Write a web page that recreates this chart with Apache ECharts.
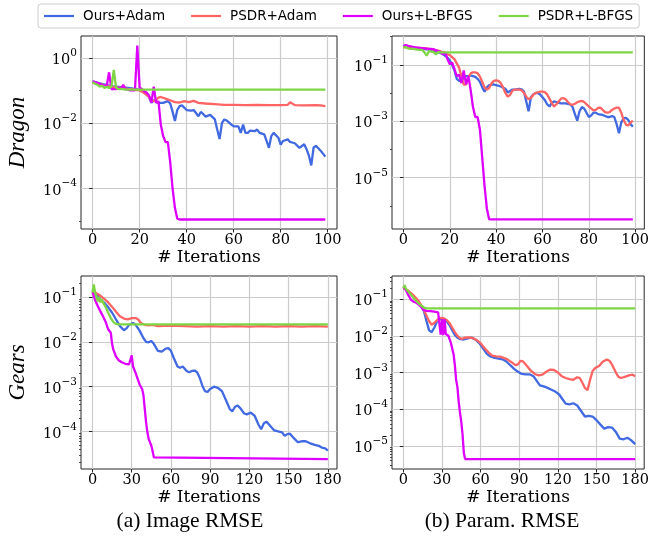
<!DOCTYPE html>
<html><head><meta charset="utf-8">
<script src="https://cdn.jsdelivr.net/npm/echarts@6/dist/echarts.min.js"></script>
<style>html,body{margin:0;padding:0;background:#fff}#c{width:652px;height:544px}</style>
</head><body><div id="c"></div>
<script>
// ---------- labels ----------
const seriesNames = ['Ours+Adam', 'PSDR+Adam', 'Ours+L-BFGS', 'PSDR+L-BFGS'];
const rowLabels = ['Dragon', 'Gears'];
const captions = ['(a) Image RMSE', '(b) Param. RMSE'];
const xTicksTop = [0, 20, 40, 60, 80, 100];
const xTicksBottom = [0, 30, 60, 90, 120, 150, 180];
const yTicksDragonImg = [1, 1e-2, 1e-4];
const yTicksDragonParam = [1e-1, 1e-3, 1e-5];
const yTicksGearsImg = [1e-1, 1e-2, 1e-3, 1e-4];
const yTicksGearsParam = [1e-1, 1e-2, 1e-3, 1e-4, 1e-5];
const yMinorDragonImg = [1e-1, 1e-3, 1e-5];
const yMinorDragonParam = [1, 1e-2, 1e-4, 1e-6];
const minorMantissas = [2, 3, 4, 5, 6, 7, 8, 9];
const gearsDecades = [1e-6, 1e-5, 1e-4, 1e-3, 1e-2, 1e-1];

// ---------- Dragon / Image RMSE ----------
const dImgAdamIt = [0,3,6,9,12,15,18,20,22,24,25,26,27,28,30,32,33,34,35,36,37,38,40,42,43,45,46,47,48,50,52,53,54,55,56,57,59,60,62,63,64,65,66,67,69,70,71,73,74,75,76,77,79,80,81,83,84,86,88,90,91,92,93,94,95,97,99];
const dImgAdam = [0.191,0.166,0.145,0.132,0.126,0.120,0.112,0.105,0.0851,0.0631,0.0417,0.0501,0.0447,0.0417,0.0417,0.0468,0.0398,0.0224,0.0115,0.0251,0.0331,0.0347,0.0251,0.0240,0.0251,0.0162,0.0219,0.0191,0.0158,0.0178,0.0129,0.00631,0.00324,0.0100,0.0129,0.0120,0.00891,0.00794,0.00794,0.00501,0.00891,0.00501,0.00501,0.00589,0.00562,0.00631,0.00501,0.00447,0.00282,0.00174,0.00398,0.00501,0.00355,0.00219,0.00282,0.00316,0.00263,0.00240,0.00174,0.00224,0.00158,0.00100,0.000501,0.00178,0.00200,0.00141,0.000933];
const dImgPsdrIt = [0,3,6,9,12,15,18,20,22,24,25,26,27,28,29,31,33,35,37,39,41,43,45,48,52,56,60,65,70,75,80,83,84,86,90,95,97,99];
const dImgPsdr = [0.174,0.158,0.138,0.126,0.120,0.112,0.105,0.100,0.0832,0.0631,0.0501,0.0468,0.0525,0.0603,0.0631,0.0562,0.0501,0.0437,0.0427,0.0468,0.0437,0.0479,0.0417,0.0398,0.0380,0.0363,0.0363,0.0355,0.0363,0.0355,0.0355,0.0363,0.0437,0.0355,0.0347,0.0355,0.0347,0.0331];
const dImgOursLbIt = [0,1,2,3,4,5,6,7,8,9,10,11,12,13,14,15,16,17,18,19,20,21,22,23,24,25,26,27,28,29,30,31,32,33,34,35,36,37,99];
const dImgOursLb = [0.19,0.18,0.17,0.16,0.15,0.14,0.14,0.36,0.11,0.11,0.11,0.12,0.11,0.15,0.11,0.105,0.10,0.10,0.10,2.4,0.12,0.11,0.095,0.085,0.07,0.042,0.13,0.042,0.047,0.0089,0.0040,0.0026,0.0026,0.00063,0.0001,0.000025,0.0000117,0.000011,0.000011];
const dImgPsdrLbIt = [0,1,2,3,4,5,6,7,8,9,10,11,12,14,99];
const dImgPsdrLb = [0.178,0.16,0.15,0.13,0.14,0.12,0.13,0.12,0.13,0.43,0.12,0.11,0.112,0.107,0.106];

// ---------- Dragon / Param RMSE ----------
const dParAdamIt = [0,5,10,15,17,19,20,21,22,23,24,25,26,27,28,29,30,31,32,33,34,35,36,37,38,39,40,42,44,45,46,47,48,50,51,52,53,54,55,56,57,58,59,60,61,62,63,64,65,66,67,68,70,72,73,74,75,76,77,78,79,80,81,82,83,84,86,88,89,90,91,92,93,94,95,96,97,98,99];
const dParAdam = [0.447,0.398,0.355,0.282,0.240,0.178,0.141,0.100,0.0631,0.0316,0.0269,0.0263,0.0355,0.0398,0.0398,0.0417,0.0398,0.0372,0.0316,0.0251,0.0158,0.0112,0.0158,0.0191,0.0200,0.0200,0.0191,0.0170,0.0141,0.0105,0.0117,0.0132,0.0132,0.0141,0.0135,0.0112,0.00501,0.00224,0.00708,0.00891,0.0100,0.0100,0.00891,0.00708,0.00562,0.00398,0.00331,0.00447,0.00501,0.00479,0.00447,0.00427,0.00427,0.00398,0.00316,0.00178,0.00105,0.00224,0.00316,0.00282,0.00200,0.00141,0.00158,0.00200,0.00200,0.00178,0.00166,0.00141,0.00141,0.00151,0.00141,0.000794,0.000372,0.000891,0.00126,0.00132,0.00112,0.000794,0.000631];
const dParPsdrIt = [0,5,10,15,18,20,22,24,25,26,27,28,29,30,31,32,33,34,35,36,37,38,39,40,41,42,43,44,45,46,47,48,50,51,52,53,54,55,56,57,59,60,61,62,63,64,65,66,67,68,69,70,71,72,73,74,75,76,77,78,79,80,81,82,83,84,85,86,87,88,89,90,91,92,93,94,95,96,97,98,99];
const dParPsdr = [0.427,0.407,0.380,0.316,0.263,0.219,0.158,0.0794,0.0398,0.0200,0.0200,0.0355,0.0501,0.0537,0.0537,0.0501,0.0380,0.0251,0.0158,0.0132,0.0151,0.0219,0.0269,0.0282,0.0269,0.0224,0.0158,0.0100,0.00741,0.00851,0.0120,0.0132,0.0132,0.0126,0.0100,0.00741,0.00603,0.00661,0.00851,0.0100,0.0112,0.0112,0.0107,0.00891,0.00631,0.00447,0.00331,0.00398,0.00501,0.00631,0.00661,0.00603,0.00479,0.00398,0.00380,0.00417,0.00468,0.00501,0.00525,0.00479,0.00398,0.00331,0.00282,0.00240,0.00251,0.00295,0.00302,0.00251,0.00209,0.00200,0.00209,0.00251,0.00282,0.00302,0.00302,0.00200,0.00112,0.000759,0.000708,0.000891,0.00105];
const dParOursLbIt = [0,1,2,5,10,13,16,17,18,19,20,21,22,23,24,25,26,27,28,29,30,31,32,33,34,35,36,37,99];
const dParOursLb = [0.468,0.501,0.468,0.417,0.372,0.355,0.282,0.234,0.282,0.158,0.105,0.120,0.0708,0.0398,0.0447,0.0224,0.0631,0.0200,0.0398,0.0126,0.00316,0.00141,0.00141,0.000501,0.0000501,0.00000501,0.000000794,0.000000331,0.000000331];
const dParPsdrLbIt = [0,1,2,3,4,5,6,7,8,9,10,11,12,13,14,15,16,99];
const dParPsdrLb = [0.417,0.427,0.380,0.363,0.372,0.355,0.347,0.339,0.339,0.282,0.209,0.302,0.295,0.282,0.234,0.282,0.275,0.275];

// ---------- Gears / Image RMSE ----------
const gImgAdamIt = [0,3,6,9,12,15,18,21,24,26,28,31,33,36,39,41,43,45,47,50,53,56,58,60,62,65,67,69,72,74,76,78,80,82,84,86,88,90,93,96,99,102,105,107,109,111,113,116,118,121,124,127,129,131,133,136,139,142,145,147,149,151,154,157,160,163,166,170,173,176,178,180];
const gImgAdam = [0.129,0.112,0.0891,0.0741,0.0589,0.0447,0.0316,0.0224,0.0182,0.0200,0.0240,0.0263,0.0240,0.0178,0.0120,0.0100,0.00977,0.0105,0.00891,0.00631,0.00603,0.00708,0.00724,0.00631,0.00447,0.00282,0.00263,0.00282,0.00224,0.00209,0.00224,0.00229,0.00209,0.00158,0.00105,0.000794,0.000759,0.000891,0.00100,0.000933,0.000794,0.000501,0.000316,0.000282,0.000355,0.000380,0.000331,0.000251,0.000240,0.000263,0.000224,0.000141,0.000112,0.000151,0.000166,0.000132,0.000105,0.000100,0.0000955,0.0000794,0.0000871,0.0000891,0.0000708,0.0000575,0.0000603,0.0000603,0.0000550,0.0000501,0.0000479,0.0000427,0.0000417,0.0000372];
const gImgPsdrIt = [0,2,4,6,9,12,15,18,21,24,27,30,33,35,37,40,43,46,50,60,70,80,90,100,110,120,130,140,150,160,170,180];
const gImgPsdr = [0.129,0.126,0.117,0.107,0.0912,0.0759,0.0603,0.0468,0.0372,0.0331,0.0316,0.0339,0.0339,0.0316,0.0263,0.0240,0.0234,0.0240,0.0224,0.0229,0.0224,0.0219,0.0224,0.0219,0.0224,0.0219,0.0224,0.0219,0.0224,0.0219,0.0224,0.0219];
const gImgOursLbIt = [0,2,4,6,8,10,12,14,15,16,18,20,22,25,28,29,30,31,33,36,38,39,40,41,42,43,45,46,47,48,180];
const gImgOursLb = [0.129,0.0851,0.0631,0.0479,0.0372,0.0282,0.0191,0.0158,0.00891,0.00661,0.00468,0.00389,0.00355,0.00324,0.00316,0.00302,0.00501,0.00282,0.00200,0.00112,0.000871,0.000631,0.000316,0.000158,0.0000955,0.0000676,0.0000479,0.0000355,0.0000263,0.0000240,0.0000240];
const gImgPsdrLbIt = [0,1,2,3,4,5,6,7,8,10,12,14,16,18,20,180];
const gImgPsdrLb = [0.126,0.191,0.126,0.100,0.0794,0.100,0.0759,0.0891,0.0759,0.0603,0.0447,0.0339,0.0275,0.0251,0.0245,0.0245];

// ---------- Gears / Param RMSE ----------
const gParAdamIt = [0,3,6,9,12,14,16,18,20,22,24,26,28,30,32,34,36,38,40,42,44,47,50,53,56,59,62,65,68,71,74,77,80,83,86,89,92,95,98,101,104,106,109,112,115,118,121,124,126,129,132,135,138,141,144,147,150,153,156,159,162,165,168,171,174,177,180];
const gParAdam = [0.200,0.174,0.138,0.107,0.0794,0.0631,0.0468,0.0251,0.0141,0.0126,0.0166,0.0240,0.0275,0.0295,0.0282,0.0240,0.0191,0.0141,0.0105,0.00891,0.00813,0.00794,0.00851,0.00891,0.00794,0.00631,0.00447,0.00316,0.00269,0.00251,0.00240,0.00229,0.00200,0.00158,0.00126,0.00105,0.000912,0.000891,0.000891,0.000794,0.000562,0.000447,0.000417,0.000380,0.000339,0.000302,0.000251,0.000178,0.000141,0.000135,0.000145,0.000126,0.0000891,0.0000631,0.0000661,0.0000631,0.0000501,0.0000380,0.0000295,0.0000324,0.0000316,0.0000240,0.0000158,0.0000151,0.0000166,0.0000141,0.0000112];
const gParPsdrIt = [0,2,4,6,8,10,12,14,16,18,20,22,24,26,28,30,32,34,36,38,40,42,44,46,48,51,54,57,60,63,66,69,72,75,78,81,84,87,89,91,93,96,99,102,105,108,111,114,117,120,123,126,129,132,135,137,139,141,143,145,147,149,152,155,158,160,162,165,167,169,172,175,178,180];
const gParPsdr = [0.200,0.186,0.166,0.145,0.126,0.105,0.0871,0.0676,0.0501,0.0355,0.0251,0.0200,0.0224,0.0263,0.0302,0.0309,0.0295,0.0263,0.0219,0.0166,0.0126,0.0100,0.00851,0.00832,0.00891,0.00912,0.00871,0.00759,0.00631,0.00468,0.00355,0.00288,0.00275,0.00269,0.00251,0.00224,0.00191,0.00158,0.00166,0.00209,0.00200,0.00151,0.00112,0.000912,0.000832,0.000871,0.00105,0.00120,0.00117,0.00100,0.000794,0.000708,0.000661,0.000631,0.000741,0.000708,0.000525,0.000380,0.000331,0.000631,0.00112,0.00132,0.00151,0.00200,0.00224,0.00209,0.00166,0.00100,0.000759,0.000708,0.000759,0.000832,0.000871,0.000794];
const gParOursLbIt = [0,2,4,6,8,10,12,14,16,18,21,24,27,28,29,30,31,32,33,35,37,39,40,41,42,43,44,45,46,47,48,180];
const gParOursLb = [0.224,0.178,0.126,0.0955,0.0851,0.0794,0.0708,0.0603,0.0501,0.0479,0.0468,0.0457,0.0437,0.0398,0.0107,0.0282,0.0105,0.0282,0.0112,0.0100,0.00631,0.00316,0.00158,0.000631,0.000398,0.000158,0.0000794,0.0000447,0.0000200,0.0000063,0.00000437,0.00000437];
const gParPsdrLbIt = [0,1,2,4,6,8,10,12,14,16,18,180];
const gParPsdrLb = [0.200,0.240,0.191,0.158,0.132,0.107,0.0891,0.0759,0.0661,0.0589,0.0562,0.0562];

// ---------- build ----------
const colors = ['#4169E1', '#FF6464', '#DD00FF', '#7FD645'];
const gearsMinor = [];
gearsDecades.forEach(d => minorMantissas.forEach(m => gearsMinor.push(+(m * d).toPrecision(3))));

const panels = [
  { grid: {left: 81, top: 36, width: 256, height: 193}, xr: [-4.95, 103.95], yr: [5.62e-6, 4.68], xt: xTicksTop, yt: yTicksDragonImg, ym: yMinorDragonImg, row: 0,
    data: [[dImgAdamIt, dImgAdam], [dImgPsdrIt, dImgPsdr], [dImgOursLbIt, dImgOursLb], [dImgPsdrLbIt, dImgPsdrLb]] },
  { grid: {left: 392, top: 36, width: 257, height: 193}, xr: [-4.95, 103.95], yr: [1.51e-7, 1.047], xt: xTicksTop, yt: yTicksDragonParam, ym: yMinorDragonParam, row: -1,
    data: [[dParAdamIt, dParAdam], [dParPsdrIt, dParPsdr], [dParOursLbIt, dParOursLb], [dParPsdrLbIt, dParPsdrLb]] },
  { grid: {left: 81, top: 276, width: 256, height: 193}, xr: [-8.8, 187], yr: [1.45e-5, 0.295], xt: xTicksBottom, yt: yTicksGearsImg, ym: gearsMinor, row: 1,
    data: [[gImgAdamIt, gImgAdam], [gImgPsdrIt, gImgPsdr], [gImgOursLbIt, gImgOursLb], [gImgPsdrLbIt, gImgPsdrLb]] },
  { grid: {left: 392, top: 276, width: 257, height: 193}, xr: [-8.8, 187], yr: [2.34e-6, 0.427], xt: xTicksBottom, yt: yTicksGearsParam, ym: gearsMinor, row: -1,
    data: [[gParAdamIt, gParAdam], [gParPsdrIt, gParPsdr], [gParOursLbIt, gParOursLb], [gParPsdrLbIt, gParPsdrLb]] }
];

const tickFont = 'DejaVu Serif';
const gridColor = '#cbcbcb';
const spineColor = '#262626';

function supLabel(v) {
  const e = Math.round(Math.log10(v));
  return '{b|10}{e|' + (e < 0 ? '\u2212' + (-e) : '' + e) + '}';
}

const grids = [], xAxes = [], yAxes = [], series = [];
panels.forEach((p, i) => {
  grids.push(Object.assign({show: true, borderColor: spineColor, borderWidth: 1, backgroundColor: 'transparent'}, p.grid));
  xAxes.push({
    type: 'value', gridIndex: i, min: p.xr[0], max: p.xr[1], splitNumber: 5,
    axisLine: {show: false},
    axisTick: {show: true, length: 3.5, lineStyle: {color: spineColor, width: 1}, customValues: p.xt},
    axisLabel: {customValues: p.xt, fontFamily: tickFont, fontSize: 14.5, color: '#000', margin: 4},
    splitLine: {show: true, lineStyle: {color: gridColor, width: 1.2}},
    name: '# Iterations', nameLocation: 'middle', nameGap: 18,
    nameTextStyle: {fontFamily: tickFont, fontSize: 17, color: '#000'}
  });
  const ya = {
    type: 'log', logBase: 10, gridIndex: i, min: p.yr[0], max: p.yr[1], position: 'left',
    axisLine: {show: false},
    axisTick: {show: true, length: 3.5, lineStyle: {color: spineColor, width: 1}, customValues: p.yt},
    axisLabel: {customValues: p.yt, formatter: supLabel, margin: 4, color: '#000',
      rich: {b: {fontFamily: tickFont, fontSize: 14.5, color: '#000', verticalAlign: 'bottom', lineHeight: 20},
             e: {fontFamily: tickFont, fontSize: 10.5, color: '#000', verticalAlign: 'top', lineHeight: 12}}},
    splitLine: {show: true, lineStyle: {color: gridColor, width: 1.2}}
  };
  if (p.row >= 0) {
    ya.name = rowLabels[p.row];
    ya.nameLocation = 'middle';
    ya.nameRotate = 90;
    ya.nameGap = 52;
    ya.nameTextStyle = {fontFamily: 'Liberation Serif', fontStyle: 'italic', fontSize: 23, color: '#000'};
  }
  yAxes.push(ya);
  p.data.forEach((d, k) => {
    series.push({
      name: seriesNames[k], type: 'line', xAxisIndex: i, yAxisIndex: i,
      data: d[0].map((x, j) => [x, d[1][j]]),
      showSymbol: false, symbol: 'none', animation: false,
      lineStyle: {color: colors[k], width: 2.3}, itemStyle: {color: colors[k]}, z: 2 + k
    });
  });
});
// minor tick axes (no labels, no grid lines)
panels.forEach((p, i) => {
  yAxes.push({
    type: 'log', logBase: 10, gridIndex: i, min: p.yr[0], max: p.yr[1], position: 'left', offset: 0,
    axisLine: {show: false},
    axisTick: {show: true, length: 2, lineStyle: {color: spineColor, width: 0.8}, customValues: p.ym},
    axisLabel: {show: false}, splitLine: {show: false}
  });
});

const chart = echarts.init(document.getElementById('c'), null, {renderer: 'canvas'});
chart.setOption({
  animation: false,
  backgroundColor: '#fff',
  legend: {
    data: seriesNames.map(n => ({name: n, icon: 'rect'})), top: 4, left: 38, itemWidth: 30, itemHeight: 2.2, itemGap: 26,
    padding: [5, 6, 5, 6], borderColor: '#cccccc', borderWidth: 1, borderRadius: 3,
    textStyle: {fontFamily: 'DejaVu Sans', fontSize: 13.5, color: '#000', padding: [0, 0, 0, 4]}
  },
  grid: grids, xAxis: xAxes, yAxis: yAxes, series: series,
  graphic: [
    {type: 'text', style: {text: captions[0], x: 190, y: 521, fontFamily: 'Liberation Serif', fontSize: 21.5, fill: '#000', align: 'center', verticalAlign: 'middle'}},
    {type: 'text', style: {text: captions[1], x: 502, y: 521, fontFamily: 'Liberation Serif', fontSize: 21.5, fill: '#000', align: 'center', verticalAlign: 'middle'}}
  ]
});
</script></body></html>
